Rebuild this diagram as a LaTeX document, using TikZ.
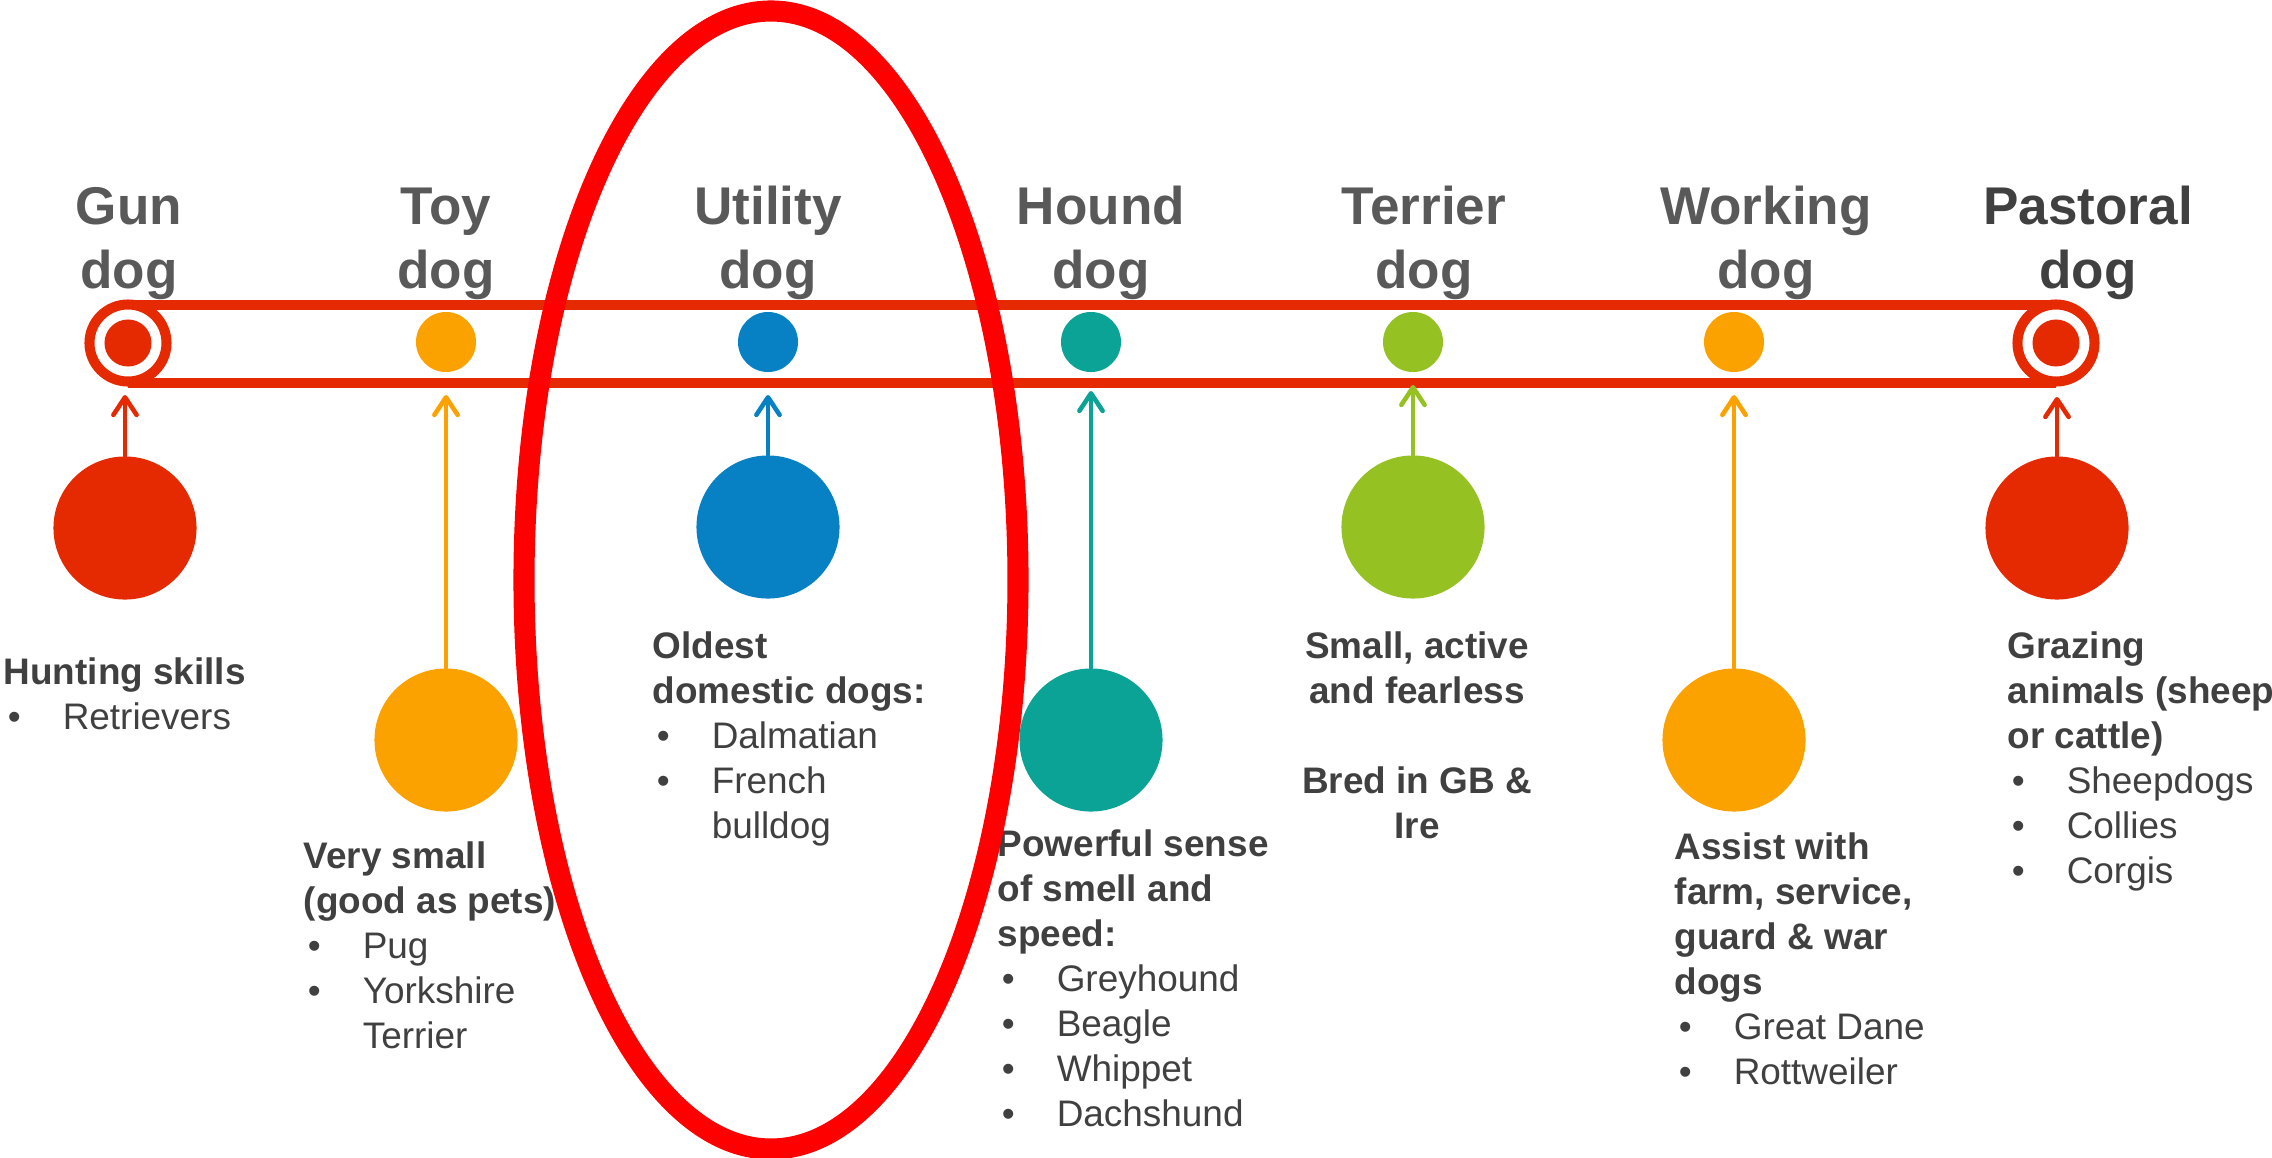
\documentclass[tikz,border=0pt]{standalone}
\usepackage{fontspec}
\setmainfont{Liberation Sans}
\usetikzlibrary{arrows.meta,positioning}

\definecolor{gunred}{HTML}{E52900}
\definecolor{toyorange}{HTML}{FBA200}
\definecolor{utilblue}{HTML}{0780C4}
\definecolor{houndteal}{HTML}{0AA396}
\definecolor{terriergreen}{HTML}{95C123}
\definecolor{headgray}{HTML}{595959}
\definecolor{textgray}{HTML}{404040}
\definecolor{markred}{HTML}{FF0000}

\newcommand{\breed}[1]{\hspace*{1.2pt}\makebox[15.6pt][l]{•}#1}
\newcommand{\breedmore}[1]{\hspace*{16.8pt}#1}

\tikzset{
  band/.style={draw=gunred, line width=2.85pt},
  ring/.style={circle, draw=gunred, line width=2.85pt, fill=white, minimum size=0.77cm, inner sep=0pt},
  spot/.style={circle, minimum size=0.6cm, inner sep=0pt},
  inspot/.style={circle, fill=gunred, minimum size=0.47cm, inner sep=0pt},
  bigspot/.style={circle, minimum size=1.43cm, inner sep=0pt},
  feed/.style={line width=1.3pt, line cap=round, -{Straight Barb[length=5pt,width=6.6pt,round]}},
  heading/.style={anchor=base, inner sep=0pt, text=headgray, font=\bfseries\fontsize{15.1}{18.2}\selectfont},
  blurb/.style={anchor=base west, inner sep=0pt, text=textgray, font=\fontsize{10.5}{12.8}\selectfont},
  highlight/.style={draw=markred, line width=6pt}
}

\begin{document}
\begin{tikzpicture}[x=0.01cm, y=-0.01cm]
\useasboundingbox (0,0) rectangle (2272,1157);

% Timeline band
\coordinate (gunpos) at (128,343);
\coordinate (pastpos) at (2056,343);
\draw[band] ([yshift=0.38cm]gunpos) -- ([yshift=0.38cm]pastpos);
\draw[band] ([yshift=-0.40cm]gunpos) -- ([yshift=-0.40cm]pastpos);
\node[ring] (gunring) at (gunpos) {};
\node[inspot] (gundot) at (gunpos) {};
\node[ring] (pastring) at (pastpos) {};
\node[inspot] (pastdot) at (pastpos) {};

% Timeline dots
\node[spot, fill=toyorange] (toydot) at (446,342) {};
\node[spot, fill=utilblue] (utildot) at (768,342) {};
\node[spot, fill=houndteal] (hounddot) at (1091,342) {};
\node[spot, fill=terriergreen] (terrdot) at (1413,342) {};
\node[spot, fill=toyorange] (workdot) at (1734,342) {};

% Group headings
\node[heading] (gunhead) at (129,224) {\begin{tabular}[t]{@{}c@{}}Gun\\dog\end{tabular}};
\node[heading] (toyhead) at (446,224) {\begin{tabular}[t]{@{}c@{}}Toy\\dog\end{tabular}};
\node[heading] (utilhead) at (768,224) {\begin{tabular}[t]{@{}c@{}}Utility\\dog\end{tabular}};
\node[heading] (houndhead) at (1101,224) {\begin{tabular}[t]{@{}c@{}}Hound\\dog\end{tabular}};
\node[heading] (terrhead) at (1424,224) {\begin{tabular}[t]{@{}c@{}}Terrier\\dog\end{tabular}};
\node[heading] (workhead) at (1766,224) {\begin{tabular}[t]{@{}c@{}}Working\\dog\end{tabular}};
\node[heading, text=textgray] (pasthead) at (2088,224) {\begin{tabular}[t]{@{}c@{}}Pastoral\\dog\end{tabular}};

% Big circles, high and low
\node[bigspot, fill=gunred] (gunbig) at (125,528) {};
\node[bigspot, fill=toyorange] (toybig) at (446,740) {};
\node[bigspot, fill=utilblue] (utilbig) at (768,527) {};
\node[bigspot, fill=houndteal] (houndbig) at (1091,740) {};
\node[bigspot, fill=terriergreen] (terrbig) at (1413,527) {};
\node[bigspot, fill=toyorange] (workbig) at (1734,740) {};
\node[bigspot, fill=gunred] (pastbig) at (2057,528) {};

% Arrow tips under the band
\coordinate (guntip) at (125,395);
\coordinate (toytip) at (446,395);
\coordinate (utiltip) at (768,395);
\coordinate (houndtip) at (1091,391);
\coordinate (terrtip) at (1413,385);
\coordinate (worktip) at (1734,395);
\coordinate (pasttip) at (2057,397);
\draw[feed, gunred] (gunbig.north) -- (guntip);
\draw[feed, toyorange] (toybig.north) -- (toytip);
\draw[feed, utilblue] (utilbig.north) -- (utiltip);
\draw[feed, houndteal] (houndbig.north) -- (houndtip);
\draw[feed, terriergreen] (terrbig.north) -- (terrtip);
\draw[feed, toyorange] (workbig.north) -- (worktip);
\draw[feed, gunred] (pastbig.north) -- (pasttip);

% Descriptions
\node[blurb] (guntext) at (3,684) {\begin{tabular}[t]{@{}l@{}}
  \textbf{Hunting skills}\\ \breed{Retrievers}\end{tabular}};
\node[blurb] (toytext) at (303,868) {\begin{tabular}[t]{@{}l@{}}
  \textbf{Very small}\\ \textbf{(good as pets)}\\ \breed{Pug}\\ \breed{Yorkshire}\\ \breedmore{Terrier}\end{tabular}};
\node[blurb] (utiltext) at (652,658) {\begin{tabular}[t]{@{}l@{}}
  \textbf{Oldest}\\ \textbf{domestic dogs:}\\ \breed{Dalmatian}\\ \breed{French}\\ \breedmore{bulldog}\end{tabular}};
\node[blurb] (houndtext) at (997,856) {\begin{tabular}[t]{@{}l@{}}
  \textbf{Powerful sense}\\ \textbf{of smell and}\\ \textbf{speed:}\\ \breed{Greyhound}\\ \breed{Beagle}\\ \breed{Whippet}\\ \breed{Dachshund}\end{tabular}};
\node[blurb, anchor=base] (terrtext) at (1417,658) {\bfseries\begin{tabular}[t]{@{}c@{}}
  Small, active\\ and fearless\\ \\ Bred in GB \&\\ Ire\end{tabular}};
\node[blurb] (worktext) at (1674,859) {\begin{tabular}[t]{@{}l@{}}
  \textbf{Assist with}\\ \textbf{farm, service,}\\ \textbf{guard \& war}\\ \textbf{dogs}\\ \breed{Great Dane}\\ \breed{Rottweiler}\end{tabular}};
\node[blurb] (pasttext) at (2007,658) {\begin{tabular}[t]{@{}l@{}}
  \textbf{Grazing}\\ \textbf{animals (sheep}\\ \textbf{or cattle)}\\ \breed{Sheepdogs}\\ \breed{Collies}\\ \breed{Corgis}\end{tabular}};

% Highlight round the utility group
\draw[highlight] (771,580) ellipse [x radius=247, y radius=569];
\end{tikzpicture}
\end{document}
